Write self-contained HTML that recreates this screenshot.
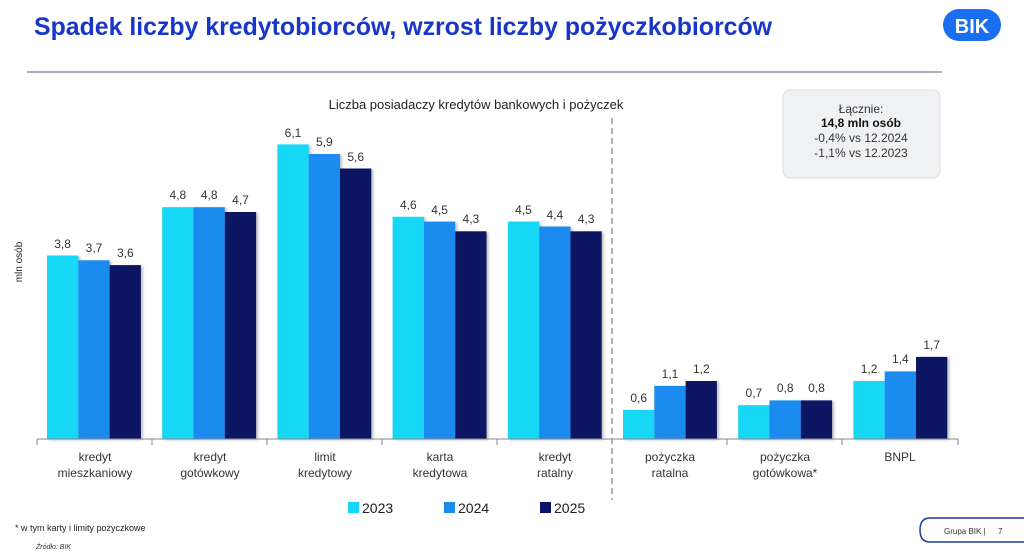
<!DOCTYPE html>
<html><head><meta charset="utf-8"><style>
body{margin:0;width:1024px;height:554px;background:#fff;overflow:hidden;font-family:"Liberation Sans",sans-serif}
</style></head><body>
<svg width="1024" height="554" xmlns="http://www.w3.org/2000/svg" font-family="Liberation Sans, sans-serif">
<defs><filter id="sh" x="-20%" y="-20%" width="150%" height="150%"><feDropShadow dx="2" dy="1" stdDeviation="1.2" flood-color="#000" flood-opacity="0.25"/></filter></defs>
<text x="34" y="35" font-size="25" font-weight="bold" fill="#1836c8" textLength="738" lengthAdjust="spacingAndGlyphs">Spadek liczby kredytobiorców, wzrost liczby pożyczkobiorców</text>
<circle cx="959" cy="25" r="16" fill="#1a6ff0"/><circle cx="985" cy="25" r="16" fill="#1a6ff0"/><rect x="959" y="9" width="26" height="32" fill="#1a6ff0"/>
<text x="972" y="33" font-size="20" font-weight="bold" fill="#fff" text-anchor="middle">BIK</text>
<line x1="27" y1="72" x2="942" y2="72" stroke="#8a96a6" stroke-width="1.5"/>
<text x="476" y="109" font-size="13" fill="#222" text-anchor="middle">Liczba posiadaczy kredytów bankowych i pożyczek</text>
<rect x="783" y="90" width="157" height="88" rx="7" fill="#f0f1f3" stroke="#dcdde0"/>
<text x="861" y="113" font-size="12" fill="#333" text-anchor="middle">Łącznie:</text>
<text x="861" y="127" font-size="12" font-weight="bold" fill="#111" text-anchor="middle">14,8 mln osób</text>
<text x="861" y="142" font-size="12" fill="#333" text-anchor="middle">-0,4% vs 12.2024</text>
<text x="861" y="157" font-size="12" fill="#333" text-anchor="middle">-1,1% vs 12.2023</text>
<text x="22" y="262" font-size="10" fill="#222" text-anchor="middle" transform="rotate(-90 22 262)">mln osób</text>
<line x1="612" y1="118" x2="612" y2="500" stroke="#999" stroke-width="1.5" stroke-dasharray="6,4"/>
<g filter="url(#sh)">
<rect x="47" y="255.5" width="31.3" height="183.5" fill="#13d7f5"/><rect x="78.3" y="260.3" width="31.3" height="178.7" fill="#1a8bf0"/><rect x="109.6" y="265.1" width="31.3" height="173.9" fill="#0a1464"/>
<rect x="162.2" y="207.2" width="31.3" height="231.8" fill="#13d7f5"/><rect x="193.5" y="207.2" width="31.3" height="231.8" fill="#1a8bf0"/><rect x="224.8" y="212" width="31.3" height="227" fill="#0a1464"/>
<rect x="277.4" y="144.4" width="31.3" height="294.6" fill="#13d7f5"/><rect x="308.7" y="154" width="31.3" height="285" fill="#1a8bf0"/><rect x="340" y="168.5" width="31.3" height="270.5" fill="#0a1464"/>
<rect x="392.6" y="216.8" width="31.3" height="222.2" fill="#13d7f5"/><rect x="423.9" y="221.6" width="31.3" height="217.4" fill="#1a8bf0"/><rect x="455.2" y="231.3" width="31.3" height="207.7" fill="#0a1464"/>
<rect x="507.8" y="221.6" width="31.3" height="217.4" fill="#13d7f5"/><rect x="539.1" y="226.5" width="31.3" height="212.5" fill="#1a8bf0"/><rect x="570.4" y="231.3" width="31.3" height="207.7" fill="#0a1464"/>
<rect x="623" y="410" width="31.3" height="29" fill="#13d7f5"/><rect x="654.3" y="385.9" width="31.3" height="53.1" fill="#1a8bf0"/><rect x="685.6" y="381" width="31.3" height="58" fill="#0a1464"/>
<rect x="738.2" y="405.2" width="31.3" height="33.8" fill="#13d7f5"/><rect x="769.5" y="400.4" width="31.3" height="38.6" fill="#1a8bf0"/><rect x="800.8" y="400.4" width="31.3" height="38.6" fill="#0a1464"/>
<rect x="853.4" y="381" width="31.3" height="58" fill="#13d7f5"/><rect x="884.7" y="371.4" width="31.3" height="67.6" fill="#1a8bf0"/><rect x="916" y="356.9" width="31.3" height="82.1" fill="#0a1464"/>
</g>
<g font-size="12" fill="#333" text-anchor="middle">
<text x="62.6" y="248">3,8</text><text x="94" y="252">3,7</text><text x="125.3" y="257">3,6</text>
<text x="177.9" y="199">4,8</text><text x="209.2" y="199">4,8</text><text x="240.5" y="204">4,7</text>
<text x="293" y="137">6,1</text><text x="324.4" y="146">5,9</text><text x="355.7" y="161">5,6</text>
<text x="408.3" y="209">4,6</text><text x="439.6" y="214">4,5</text><text x="470.9" y="223">4,3</text>
<text x="523.5" y="214">4,5</text><text x="554.8" y="219">4,4</text><text x="586.1" y="223">4,3</text>
<text x="638.7" y="402">0,6</text><text x="670" y="378">1,1</text><text x="701.3" y="373">1,2</text>
<text x="753.9" y="397">0,7</text><text x="785.2" y="392">0,8</text><text x="816.5" y="392">0,8</text>
<text x="869.1" y="373">1,2</text><text x="900.4" y="363">1,4</text><text x="931.7" y="349">1,7</text>
</g>
<line x1="37" y1="439" x2="958" y2="439" stroke="#888"/>
<g stroke="#888">
<line x1="37" y1="439" x2="37" y2="445"/><line x1="152" y1="439" x2="152" y2="445"/><line x1="267" y1="439" x2="267" y2="445"/><line x1="382" y1="439" x2="382" y2="445"/><line x1="497" y1="439" x2="497" y2="445"/><line x1="727" y1="439" x2="727" y2="445"/><line x1="842" y1="439" x2="842" y2="445"/><line x1="958" y1="439" x2="958" y2="445"/>
</g>
<g font-size="12" fill="#333" text-anchor="middle">
<text x="95" y="461">kredyt</text><text x="95" y="477">mieszkaniowy</text>
<text x="210" y="461">kredyt</text><text x="210" y="477">gotówkowy</text>
<text x="325" y="461">limit</text><text x="325" y="477">kredytowy</text>
<text x="440" y="461">karta</text><text x="440" y="477">kredytowa</text>
<text x="555" y="461">kredyt</text><text x="555" y="477">ratalny</text>
<text x="670" y="461">pożyczka</text><text x="670" y="477">ratalna</text>
<text x="785" y="461">pożyczka</text><text x="785" y="477">gotówkowa*</text>
<text x="900" y="461">BNPL</text>
</g>
<g font-size="14" fill="#222">
<rect x="348" y="502" width="11" height="11" fill="#13d7f5"/><text x="362" y="513">2023</text>
<rect x="444" y="502" width="11" height="11" fill="#1a8bf0"/><text x="458" y="513">2024</text>
<rect x="540" y="502" width="11" height="11" fill="#0a1464"/><text x="554" y="513">2025</text>
</g>
<text x="15" y="531" font-size="9" fill="#222">* w tym karty i limity pożyczkowe</text>
<text x="36" y="549" font-size="7" font-style="italic" fill="#333">Źródło: BIK</text>
<path d="M1024 518 H930 Q920 518 920 530 Q920 542 930 542 H1024" fill="none" stroke="#1a3a9a" stroke-width="1.5"/>
<text x="944" y="534" font-size="8" fill="#333">Grupa BIK |</text><text x="998" y="534" font-size="8" fill="#333">7</text>
</svg>
</body></html>
